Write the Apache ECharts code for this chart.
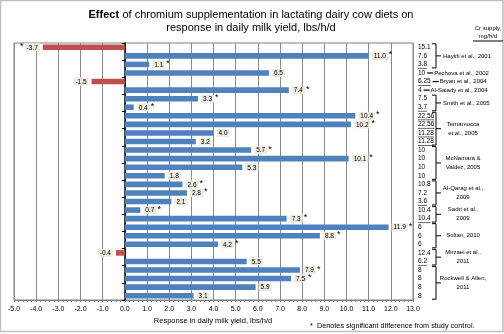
<!DOCTYPE html>
<html><head><meta charset="utf-8">
<script src="https://cdn.jsdelivr.net/npm/echarts@6/dist/echarts.min.js"></script>
<style>html,body{margin:0;padding:0;background:#fff}#c{width:504px;height:334px}</style>
</head><body><div id="c"></div>
<script>
const rows = ['R1','R2','R3','R4','R5','R6','R7','R8','R9','R10','R11','R12','R13','R14','R15','R16','R17','R18','R19','R20','R21','R22','R23','R24','R25','R26','R27','R28','R29','R30'];
const responses = [-3.7, 11.0, 1.1, 6.5, -1.5, 7.4, 3.3, 0.4, 10.4, 10.2, 4.0, 3.2, 5.7, 10.1, 5.3, 1.8, 2.6, 2.8, 2.1, 0.7, 7.3, 11.9, 8.8, 4.2, -0.4, 5.5, 7.9, 7.5, 5.9, 3.1];
const significant = [1,1,1,0,0,1,1,1,1,1,0,0,1,1,0,0,1,1,0,1,1,1,1,1,0,0,1,1,0,0];
const crSupply = ['15.1','7.6','3.8','10','6.25','4','7.5','3.7','22.56','22.56','11.28','11.28','10','10','10','10','10.8','7.2','3.6','10.4','10.4','6','6','6','12.4','6.2','8','8','8','8'];
const underlined = [0,0,1,0,1,0,0,1,1,1,1,1,0,0,0,0,0,0,1,0,1,0,0,0,0,1,0,0,0,0];
const studies = [
  {label:['Hayirli et al., 2001'], from:0, to:2},
  {label:['Pechova et al., 2002'], from:3, to:3},
  {label:['Bryan et al., 2004'], from:4, to:4},
  {label:['Al-Saiady et al., 2004'], from:5, to:5},
  {label:['Smith et al., 2005'], from:6, to:7},
  {label:['Ternamocca','et al., 2005'], from:8, to:11},
  {label:['McNamara &','Valdez, 2005'], from:12, to:15},
  {label:['Al-Qarag et al.,','2009'], from:16, to:18},
  {label:['Sadri et al.,','2009'], from:19, to:20},
  {label:['Soltan, 2010'], from:21, to:23},
  {label:['Mirzaei et al.,','2011'], from:24, to:25},
  {label:['Rockwell & Allen,','2011'], from:26, to:29}
];
const xMin = -5, xMax = 13, xStep = 1;
const titleLines = ['Effect of chromium supplementation in lactating dairy cow diets on', 'response in daily milk yield, lbs/h/d'];
const xTitle = 'Response in daily milk yield, lbs/h/d';
const footnote = '*  Denotes significant difference from study control.';
const crHeader = ['Cr supply,', 'mg/h/d'];

const FONT = 'Liberation Sans';
const chart = echarts.init(document.getElementById('c'), null, {renderer:'canvas'});

const barData = responses.map((v, i) => ({
  value: v,
  itemStyle: {color: v < 0 ? '#C0504D' : '#4F81BD'},
  label: {
    position: v < 0 ? 'left' : 'right',
    distance: 3,
    formatter: v < 0
      ? (significant[i] ? '{s|*}{v|' + v.toFixed(1) + '}' : '{v|' + v.toFixed(1) + '}')
      : (significant[i] ? '{v|' + v.toFixed(1) + '}{s|*}' : '{v|' + v.toFixed(1) + '}')
  }
}));

chart.setOption({
  animation: false,
  backgroundColor: '#fff',
  grid: {left: 14, right: 91, top: 43, bottom: 34, show: true, borderColor: '#7f7f7f', borderWidth: 1, backgroundColor: '#fff'},
  xAxis: {
    type: 'value', min: xMin, max: xMax, interval: xStep,
    axisLine: {show: true, lineStyle: {color: '#7f7f7f'}},
    axisTick: {show: true, length: 2, lineStyle: {color: '#7f7f7f'}},
    minorTick: {show: true, splitNumber: 5, length: 2, lineStyle: {color: '#7f7f7f'}},
    axisLabel: {formatter: v => v.toFixed(1), fontSize: 7, color: '#000', fontFamily: FONT, margin: 6},
    splitLine: {show: true, lineStyle: {color: '#8c8c8c', width: 1}}
  },
  yAxis: {
    type: 'category', data: rows, inverse: true,
    axisLine: {show: true, onZero: true, lineStyle: {color: '#000', width: 1.5}},
    axisTick: {show: true, length: 3, lineStyle: {color: '#000'}},
    axisLabel: {show: false},
    splitLine: {show: false}
  },
  series: [{
    type: 'bar', data: barData, barCategoryGap: '35%',
    label: {
      show: true,
      rich: {
        v: {backgroundColor: '#EEECE1', fontSize: 6.5, color: '#000', fontFamily: FONT, padding: [1, 2, 0, 2], lineHeight: 9},
        s: {fontSize: 9, color: '#000', fontFamily: FONT, padding: [0, 1, 2, 1], lineHeight: 9}
      }
    }
  }]
});

const ys = rows.map((r, i) => chart.convertToPixel({yAxisIndex: 0}, i));
const crW = crSupply.map(c => echarts.format.getTextRect ? 0 : 0);
const measure = (t, size) => {
  const cv = document.createElement('canvas').getContext('2d');
  cv.font = size + 'px "' + FONT + '"';
  return cv.measureText(t).width;
};
const g = [];
const txt = (x, y, t, opts) => g.push(Object.assign({type: 'text', x: x, y: y, silent: true,
  style: Object.assign({text: t, fontSize: 6.5, fontFamily: FONT, fill: '#000', align: 'left', verticalAlign: 'middle'}, opts || {})}));
const line = (x1, y1, x2, y2, w) => g.push({type: 'line', silent: true, shape: {x1, y1, x2, y2}, style: {stroke: '#000', lineWidth: w || 1}});

// outer border
g.push({type: 'rect', silent: true, shape: {x: 0.5, y: 0.5, width: 502.5, height: 331}, style: {fill: null, stroke: '#bfbfbf', lineWidth: 1.5}});
// title
g.push({type: 'text', x: 251, y: 15, silent: true, style: {
  text: '{b|Effect} {n|' + titleLines[0].replace(/^Effect /, '') + '}', align: 'center', verticalAlign: 'middle',
  rich: {b: {fontSize: 11, fontWeight: 'bold', fontFamily: FONT, fill: '#000'}, n: {fontSize: 11, fontFamily: FONT, fill: '#000'}}}});
txt(251, 28, titleLines[1], {fontSize: 11, align: 'center'});
// header
txt(488, 28, crHeader[0], {align: 'center', fontSize: 6});
txt(488, 36, crHeader[1], {align: 'center', fontSize: 6});
line(473, 41, 503, 41, 1);
// axis title & footnote
txt(213, 321, xTitle, {align: 'center', fontSize: 7.5});
txt(310, 326, footnote, {align: 'left', fontSize: 7.3});
// Cr values
const CRFS = 6.5;
crSupply.forEach((c, i) => {
  txt(418, ys[i], c, {fontSize: CRFS});
  if (underlined[i]) line(418, ys[i] + 4, 418 + measure(c, CRFS), ys[i] + 4, 0.6);
});
// studies
studies.forEach(s => {
  const yA = ys[s.from], yB = ys[s.to], yM = (yA + yB) / 2;
  if (s.from === s.to) {
    const x0 = 418 + measure(crSupply[s.from], CRFS) + 2;
    line(x0, yM, x0 + 6, yM, 1.2);
    txt(x0 + 7, yM, s.label[0], {fontSize: 6});
  } else {
    const bx = 436, top = yA - 3.5, bot = yB + 3.5;
    g.push({type: 'polyline', silent: true, shape: {points: [[bx - 4, top], [bx, top], [bx, bot], [bx - 4, bot]]}, style: {stroke: '#000', lineWidth: 1, fill: null}});
    line(bx, yM, bx + 5, yM, 1);
    if (s.from < 8) {
      txt(443, yM, s.label[0], {fontSize: 6});
    } else if (s.label.length === 1) {
      txt(463, yM, s.label[0], {fontSize: 6, align: 'center'});
    } else {
      txt(463, yM - 4.5, s.label[0], {fontSize: 6, align: 'center'});
      txt(463, yM + 4.5, s.label[1], {fontSize: 6, align: 'center'});
    }
  }
});
chart.setOption({graphic: {elements: g}});
</script></body></html>
